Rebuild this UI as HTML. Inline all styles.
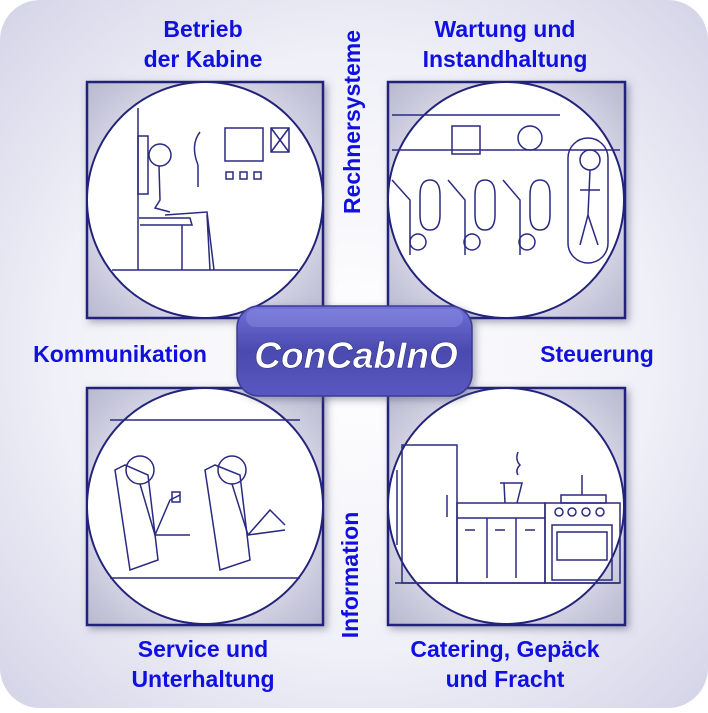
<!DOCTYPE html>
<html><head><style>
body{margin:0;width:708px;height:708px;overflow:hidden;background:#fff}
</style></head><body>
<svg width="708" height="708" viewBox="0 0 708 708" xmlns="http://www.w3.org/2000/svg">
<defs>
<radialGradient id="bg" cx="50%" cy="50%" r="70%">
<stop offset="0" stop-color="#ffffff"/><stop offset="0.6" stop-color="#f0f0f8"/><stop offset="1" stop-color="#d4d4e8"/>
</radialGradient>
<radialGradient id="sq" cx="50%" cy="50%" r="70%">
<stop offset="0.5" stop-color="#e4e4f0"/><stop offset="1" stop-color="#b8b8d0"/>
</radialGradient>
<linearGradient id="btn" x1="0" y1="0" x2="0" y2="1">
<stop offset="0" stop-color="#7070d8"/><stop offset="0.5" stop-color="#4a4ab0"/><stop offset="1" stop-color="#5858c0"/>
</linearGradient>
<filter id="sh" x="-20%" y="-20%" width="140%" height="140%"><feDropShadow dx="3" dy="3" stdDeviation="4" flood-color="#555577" flood-opacity="0.5"/></filter>
</defs>
<rect x="0" y="0" width="708" height="708" rx="40" fill="url(#bg)"/>
<g stroke="#23237a" stroke-width="2.5" fill="url(#sq)" filter="url(#sh)">
<rect x="87" y="82" width="236" height="236"/>
<rect x="388" y="82" width="237" height="236"/>
<rect x="87" y="388" width="236" height="237"/>
<rect x="388" y="388" width="237" height="237"/>
</g>
<g stroke="#23237a" stroke-width="2" fill="#fff">
<circle cx="205" cy="200" r="118"/>
<circle cx="506" cy="200" r="118"/>
<circle cx="205" cy="506" r="118"/>
<circle cx="506" cy="506" r="118"/>
</g>
<g stroke="#2a2a80" stroke-width="1.5" fill="none">
<line x1="112" y1="270" x2="298" y2="270"/>
<line x1="138" y1="108" x2="138" y2="270"/>
<rect x="138" y="136" width="10" height="58"/>
<circle cx="160" cy="155" r="11"/>
<path d="M159 166 L160 200 L155 208 L170 212"/>
<path d="M139 218 L190 218 L192 225 L140 225"/>
<line x1="182" y1="225" x2="182" y2="270"/>
<path d="M165 215 L207 212 L214 270 M207 215 L210 270"/>
<path d="M200 132 Q190 145 198 165 M198 165 L198 187"/>
<rect x="225" y="128" width="38" height="33"/>
<rect x="226" y="172" width="7" height="7"/><rect x="240" y="172" width="7" height="7"/><rect x="254" y="172" width="7" height="7"/>
<rect x="271" y="128" width="18" height="24"/><path d="M271 128 L289 152 M289 128 L271 152"/>
<line x1="392" y1="150" x2="620" y2="150"/>
<line x1="392" y1="115" x2="560" y2="115"/>
<rect x="452" y="126" width="28" height="28"/>
<circle cx="530" cy="138" r="12"/>
<path d="M392 180 L410 200 L410 255 M430 180 Q420 180 420 195 L420 215 Q420 230 430 230 Q440 230 440 215 L440 195 Q440 180 430 180"/>
<path d="M448 180 L465 200 L465 255 M485 180 Q475 180 475 195 L475 215 Q475 230 485 230 Q495 230 495 215 L495 195 Q495 180 485 180"/>
<path d="M503 180 L520 200 L520 255 M540 180 Q530 180 530 195 L530 215 Q530 230 540 230 Q550 230 550 215 L550 195 Q550 180 540 180"/>
<circle cx="418" cy="242" r="8"/><circle cx="472" cy="242" r="8"/><circle cx="527" cy="242" r="8"/>
<rect x="568" y="138" width="40" height="125" rx="20"/>
<circle cx="590" cy="160" r="10"/><path d="M590 170 L588 215 L580 245 M588 215 L598 245 M580 190 L600 190"/>
<line x1="110" y1="420" x2="300" y2="420"/>
<line x1="110" y1="578" x2="300" y2="578"/>
<path d="M115 470 L125 465 L148 475 L158 560 L130 570 Z"/>
<circle cx="140" cy="470" r="14"/>
<path d="M140 484 L155 535 L190 535 M155 535 L170 500 L180 495"/>
<rect x="172" y="492" width="8" height="10"/>
<path d="M205 470 L215 465 L240 475 L250 560 L220 570 Z"/>
<circle cx="232" cy="470" r="14"/>
<path d="M232 484 L248 535 L285 530 M248 535 L270 510 L285 525"/>
<line x1="395" y1="583" x2="620" y2="583"/>
<rect x="402" y="445" width="55" height="138"/>
<line x1="397" y1="470" x2="397" y2="545"/>
<line x1="447" y1="495" x2="447" y2="517"/>
<rect x="457" y="503" width="88" height="80"/>
<line x1="457" y1="518" x2="545" y2="518"/>
<line x1="487" y1="518" x2="487" y2="578"/><line x1="516" y1="518" x2="516" y2="578"/>
<path d="M465 530 h10 M495 530 h10 M525 530 h10"/>
<path d="M500 483 L522 483 L517 503 M504 483 L505 503"/>
<path d="M518 452 Q515 460 520 465 Q515 470 518 475"/>
<rect x="545" y="503" width="75" height="80"/>
<rect x="552" y="525" width="60" height="55"/>
<rect x="557" y="532" width="50" height="28"/>
<circle cx="559" cy="512" r="4"/><circle cx="572" cy="512" r="4"/><circle cx="586" cy="512" r="4"/><circle cx="600" cy="512" r="4"/>
<rect x="561" y="495" width="45" height="8"/>
<line x1="582" y1="475" x2="582" y2="495"/>
</g>
<rect x="237" y="306" width="235" height="90" rx="22" fill="url(#btn)" stroke="#3a3a98" stroke-width="1.5" filter="url(#sh)"/>
<rect x="246" y="309" width="217" height="18" rx="9" fill="#9a9ae8" opacity="0.35"/>
<text x="356" y="368" text-anchor="middle" font-family="Liberation Sans, sans-serif" font-size="37" font-weight="bold" font-style="italic" fill="#fff" stroke="#2a2a70" stroke-width="0.5">ConCabInO</text>
<g font-family="Liberation Sans, sans-serif" font-size="23" font-weight="bold" fill="#1010e0" text-anchor="middle">
<text x="203" y="37">Betrieb</text>
<text x="203" y="67">der Kabine</text>
<text x="505" y="37">Wartung und</text>
<text x="505" y="67">Instandhaltung</text>
<text x="120" y="362">Kommunikation</text>
<text x="597" y="362">Steuerung</text>
<text x="203" y="657">Service und</text>
<text x="203" y="687">Unterhaltung</text>
<text x="505" y="657">Catering, Gepäck</text>
<text x="505" y="687">und Fracht</text>
<text transform="translate(360,122) rotate(-90)">Rechnersysteme</text>
<text transform="translate(358,575) rotate(-90)">Information</text>
</g>
</svg>
</body></html>
